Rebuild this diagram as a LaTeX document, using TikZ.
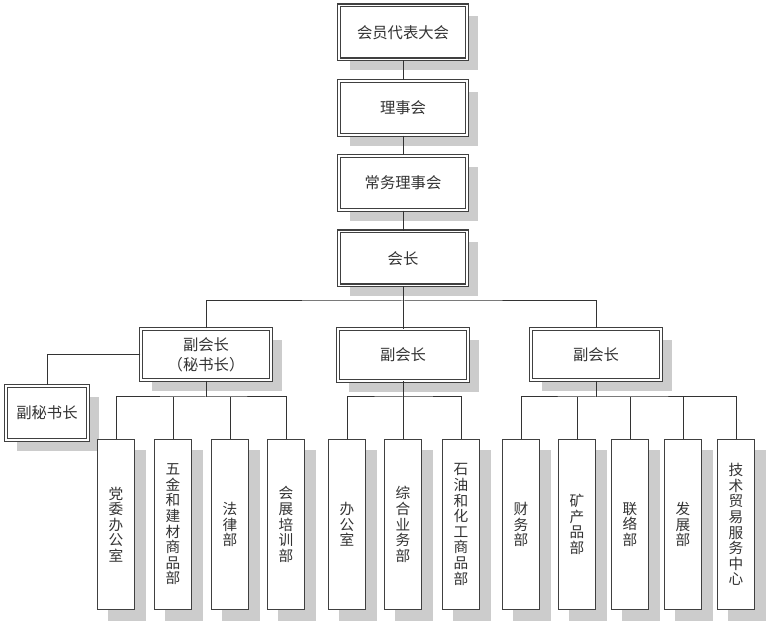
\documentclass[tikz,border=0pt]{standalone}
\usepackage{fontspec}
\setmainfont{Noto Sans CJK SC}
\usetikzlibrary{shadows}
\begin{document}
\begin{tikzpicture}[x=0.75pt,y=-0.75pt,
  shad/.style={drop shadow={shadow xshift=8.25pt,shadow yshift=-8.25pt,fill=black!20,opacity=1}},
  dbox/.style={shad,draw=black!75,double=white,double distance=1.4pt,line width=0.8pt,fill=white,
    inner sep=0pt,text=black!80,font=\fontsize{11.5}{15}\selectfont,align=center},
  topbox/.style={dbox,minimum width=96pt,minimum height=40.5pt},
  vpbox/.style={dbox,minimum width=97.5pt,minimum height=38.5pt},
  vbox/.style={shad,draw=black!75,line width=0.9pt,fill=white,inner sep=0pt,text=black!80,
    minimum width=27.8pt,minimum height=127.5pt,align=center,font=\fontsize{11}{11.7}\selectfont},
  conn/.style={draw=black!80,line width=0.75pt}]
\useasboundingbox (0,0) rectangle (771,630);
% top chain
\node[topbox] (t1) at (403,32.5) {会员代表大会};
\node[topbox] (t2) at (403,108) {理事会};
\node[topbox] (t3) at (403,183) {常务理事会};
\node[topbox] (t4) at (403,258.5) {会长};
% vice presidents
\node[vpbox] (v1) at (206,354.5) {副会长\\（秘书长）};
\node[vpbox] (v2) at (403,355) {副会长};
\node[vpbox] (v3) at (596,354.5) {副会长};
\node[dbox,minimum width=61pt,minimum height=40.5pt] (s0) at (47,413) {副秘书长};
% departments
\node[vbox] (a1) at (116,524.5) {党\\委\\办\\公\\室};
\node[vbox] (a2) at (173,524.5) {五\\金\\和\\建\\材\\商\\品\\部};
\node[vbox] (a3) at (230,524.5) {法\\律\\部};
\node[vbox] (a4) at (286,524.5) {会\\展\\培\\训\\部};
\node[vbox] (m1) at (347,524.5) {办\\公\\室};
\node[vbox] (m2) at (403,524.5) {综\\合\\业\\务\\部};
\node[vbox] (m3) at (461,524.5) {石\\油\\和\\化\\工\\商\\品\\部};
\node[vbox] (r1) at (521,524.5) {财\\务\\部};
\node[vbox] (r2) at (577,524.5) {矿\\产\\品\\部};
\node[vbox] (r3) at (630,524.5) {联\\络\\部};
\node[vbox] (r4) at (683,524.5) {发\\展\\部};
\node[vbox] (r5) at (736,524.5) {技\\术\\贸\\易\\服\\务\\中\\心};
% bus coordinates
\coordinate (bus) at (403,301);
\coordinate (b1) at (206,397);
\coordinate (b2) at (403,397);
\coordinate (b3) at (596,397);
% connectors
\draw[conn] (t1.south) -- (t2.north);
\draw[conn] (t2.south) -- (t3.north);
\draw[conn] (t3.south) -- (t4.north);
\draw[conn] (t4.south) -- (v2.north);
\draw[conn] (v1.north) |- (bus) -| (v3.north);
\draw[conn] (v1.west) -| (s0.north);
\draw[conn] (v1.south) -- (b1);
\draw[conn] (a1.north) |- (b1) -| (a4.north);
\draw[conn] (a2.north) -- (a2.north |- b1);
\draw[conn] (a3.north) -- (a3.north |- b1);
\draw[conn] (v2.south) -- (m2.north);
\draw[conn] (m1.north) |- (b2) -| (m3.north);
\draw[conn] (v3.south) -- (b3);
\draw[conn] (r1.north) |- (b3) -| (r5.north);
\draw[conn] (r2.north) -- (r2.north |- b3);
\draw[conn] (r3.north) -- (r3.north |- b3);
\draw[conn] (r4.north) -- (r4.north |- b3);
\end{tikzpicture}
\end{document}
